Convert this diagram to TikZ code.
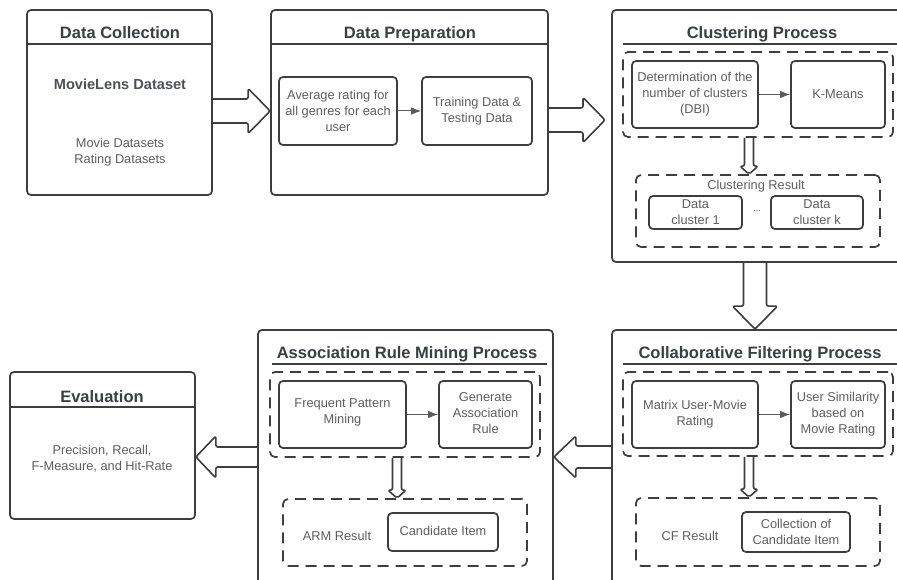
\documentclass[tikz,border=0pt]{standalone}
\usepackage{fontspec}
\setmainfont{Liberation Sans}
\usetikzlibrary{calc,fit,arrows.meta}
\definecolor{linec}{HTML}{3E3E3E}
\definecolor{titlec}{HTML}{3A3E45}
\definecolor{textc}{HTML}{5E5E5E}
\newcommand\mytitlefont{\fontsize{16.5}{19}\selectfont\bfseries}
\newcommand\mybodyfont{\fontsize{12.8}{16}\selectfont}
\newcommand\blockarrow[5]{%
  \coordinate (ba) at ($(#2)!#5!(#1)$);
  \draw[blockarr] ($(#1)!#3!90:(#2)$) -- ($(ba)!#3!90:(#2)$) -- ($(ba)!#4!90:(#2)$) -- (#2)
    -- ($(ba)!#4!-90:(#2)$) -- ($(ba)!#3!-90:(#2)$) -- ($(#1)!#3!-90:(#2)$);}
\tikzset{
  outer/.style={draw=linec, line width=1.7pt, rounded corners=4pt, inner sep=0pt},
  inbox/.style={draw=linec, line width=1.7pt, rounded corners=4pt, inner sep=0pt},
  dbox/.style={draw=linec, line width=1.7pt, dash pattern=on 11pt off 7pt, rounded corners=5pt, inner sep=0pt},
  titletext/.style={font=\mytitlefont, text=titlec, anchor=base, inner sep=0pt},
  bodytext/.style={font=\mybodyfont, text=textc, align=center, inner sep=0pt},
  thinarr/.style={draw=linec!85, line width=1pt, -{Latex[length=10pt,width=7.5pt]}},
  blockarr/.style={draw=linec, line width=1.6pt, rounded corners=2pt, line join=round},
  sepline/.style={draw=linec, line width=1.5pt},
}
\begin{document}
\begin{tikzpicture}[x=1pt,y=-1pt]
\clip (0,0) rectangle (897,580);
\fill[white] (0,0) rectangle (897,580);

% ---------- Data Collection ----------
\node[outer, fit={(27,10)(212,195)}] (dc) {};
\draw[sepline] (dc.west |- 0,44) -- (dc.east |- 0,44);
\node[titletext] (dct) at (120,39) {Data Collection};
\node[bodytext, font=\fontsize{14.6}{17}\selectfont\bfseries, text=titlec!90] (dcm) at (120,84) {MovieLens Dataset};
\node[bodytext] (dcd) at (120,152) {Movie Datasets\\Rating Datasets};

% ---------- Data Preparation ----------
\node[outer, fit={(271,10)(548,195)}] (dp) {};
\draw[sepline] (dp.west |- 0,44) -- (dp.east |- 0,44);
\node[titletext] (dpt) at (410,39) {Data Preparation};
\node[inbox, fit={(279,77)(397,145)}] (avg) {};
\node[bodytext] (avgt) at (avg.center) {Average rating for\\all genres for each\\user};
\node[inbox, fit={(422,77)(532,145)}] (train) {};
\node[bodytext] (traint) at (train.center) {Training Data \&\\Testing Data};
\draw[thinarr] (avg) -- (train);

% ---------- Clustering Process ----------
\node[outer, fit={(612,10)(910,262)}] (cp) {};
\draw[sepline] (623,44) -- (910,44);
\node[titletext] (cpt) at (762,39) {Clustering Process};
\node[dbox, fit={(623,52)(893,137)}] (c1) {};
\node[inbox, fit={(632,61)(758,128)}] (det) {};
\node[bodytext] (dett) at (det.center) {Determination of the\\number of clusters\\(DBI)};
\node[inbox, fit={(791,61)(885,128)}] (km) {};
\node[bodytext] (kmt) at (km.center) {K-Means};
\draw[thinarr] (det) -- (km);
\node[dbox, fit={(636,175)(880,247)}] (c2) {};
\node[bodytext] (crt) at (756,186) {Clustering Result};
\node[inbox, fit={(649,196)(742,229)}] (dk1) {};
\node[bodytext] (dk1t) at (dk1.center) {Data\\cluster 1};
\node[inbox, fit={(771,196)(863,229)}] (dkk) {};
\node[bodytext] (dkkt) at (dkk.center) {Data\\cluster k};
\node[bodytext, font=\fontsize{9}{10}\selectfont] (dots) at (757,211) {...};

% ---------- Collaborative Filtering ----------
\node[outer, fit={(612,330)(910,600)}] (cf) {};
\draw[sepline] (623,364) -- (910,364);
\node[titletext] (cft) at (760,358) {Collaborative Filtering Process};
\node[dbox, fit={(623,372)(893,456)}] (f1) {};
\node[inbox, fit={(632,381)(758,448)}] (mat) {};
\node[bodytext] (matt) at (mat.center) {Matrix User-Movie\\Rating};
\node[inbox, fit={(791,381)(885,448)}] (usim) {};
\node[bodytext] (usimt) at (usim.center) {User Similarity\\based on\\Movie Rating};
\draw[thinarr] (mat) -- (usim);
\node[dbox, fit={(636,498)(880,566)}] (f2) {};
\node[bodytext] (cfr) at (690,536) {CF Result};
\node[inbox, fit={(742,512)(850,552)}] (coll) {};
\node[bodytext] (collt) at (coll.center) {Collection of\\Candidate Item};

% ---------- Association Rule Mining ----------
\node[outer, fit={(258,330)(553,600)}] (arm) {};
\draw[sepline] (272,364) -- (547,364);
\node[titletext] (armt) at (407,358) {Association Rule Mining Process};
\node[dbox, fit={(270,372)(540,457)}] (r1) {};
\node[inbox, fit={(279,381)(406,448)}] (fpm) {};
\node[bodytext] (fpmt) at ($(fpm.center)+(0,-2)$) {Frequent Pattern\\Mining};
\node[inbox, fit={(439,381)(532,448)}] (gar) {};
\node[bodytext] (gart) at ($(gar.center)+(0,-1)$) {Generate\\Association\\Rule};
\draw[thinarr] (fpm) -- (gar);
\node[dbox, fit={(283,499)(527,566)}] (r2) {};
\node[bodytext] (armr) at (337,536) {ARM Result};
\node[inbox, fit={(388,513)(498,551)}] (cand) {};
\node[bodytext] (candt) at ($(cand.center)+(0,-1)$) {Candidate Item};

% ---------- Evaluation ----------
\node[outer, fit={(10,372)(195,519)}] (ev) {};
\draw[sepline] (ev.west |- 0,407) -- (ev.east |- 0,407);
\node[titletext] (evt) at (102,402) {Evaluation};
\node[bodytext] (evb) at (102,459) {Precision, Recall,\\F-Measure, and Hit-Rate};

% ---------- Block arrows ----------
\coordinate (a1s) at (dc.east |- 0,111);
\coordinate (a1e) at (dp.west |- 0,111);
\blockarrow{a1s}{a1e}{12pt}{22.5pt}{22pt}
\coordinate (a2s) at (dp.east |- 0,120);
\coordinate (a2e) at (605,120);
\blockarrow{a2s}{a2e}{12pt}{22.5pt}{22pt}
\coordinate (a3s) at (cp.south -| 755,0);
\coordinate (a3e) at (cf.north -| 755,0);
\blockarrow{a3s}{a3e}{11.5pt}{22.5pt}{23pt}
\coordinate (a4s) at (cf.west |- 0,457);
\coordinate (a4e) at (arm.east |- 0,457);
\blockarrow{a4s}{a4e}{11pt}{21pt}{22pt}
\coordinate (a5s) at (arm.west |- 0,457);
\coordinate (a5e) at (ev.east |- 0,457);
\blockarrow{a5s}{a5e}{10pt}{21pt}{20pt}
\coordinate (s1s) at (c1.south -| 749,0);
\coordinate (s1e) at (c2.north -| 749,0);
\blockarrow{s1s}{s1e}{4.5pt}{9pt}{8pt}
\coordinate (s2s) at (f1.south -| 749,0);
\coordinate (s2e) at (f2.north -| 749,0);
\blockarrow{s2s}{s2e}{4.5pt}{9pt}{8pt}
\coordinate (s3s) at (r1.south -| 397,0);
\coordinate (s3e) at (r2.north -| 397,0);
\blockarrow{s3s}{s3e}{4.5pt}{9pt}{8pt}
\end{tikzpicture}
\end{document}
